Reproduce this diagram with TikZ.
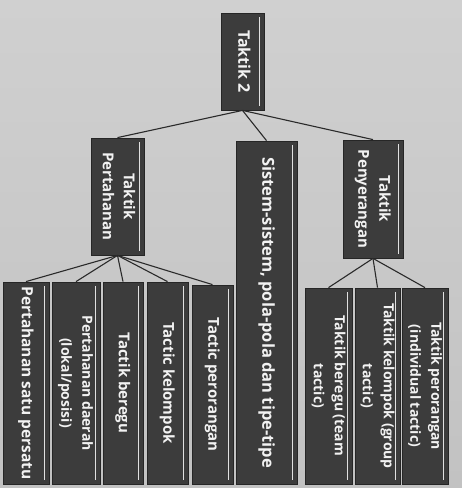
\documentclass[tikz,border=0pt]{standalone}
\usepackage{fontspec}
\setmainfont{Open Sans}
\usepackage{graphicx}
\definecolor{bgtop}{HTML}{D0D0D0}
\definecolor{bgbot}{HTML}{C2C2C2}
\definecolor{boxfill}{HTML}{3C3C3C}
\definecolor{boxtext}{HTML}{F2F2F2}
\definecolor{linkcol}{HTML}{2A2A2A}
\newcommand{\rottxt}[2][15]{\rotatebox{-90}{\fontsize{#1}{21}\selectfont\bfseries\begin{tabular}{@{}c@{}}#2\end{tabular}}}
\begin{document}
\begin{tikzpicture}[x=1pt,y=-1pt,
  tbox/.style={draw=black!85, line width=0.8pt, fill=boxfill, text=boxtext,
    inner sep=0pt, anchor=center,
    path picture={\draw[white!88!black, line width=1.3pt]
      ([xshift=-4.5pt,yshift=-4pt]path picture bounding box.north east) --
      ([xshift=-4.5pt,yshift=4pt]path picture bounding box.south east);}},
  link/.style={draw=linkcol, line width=1.1pt}]
\useasboundingbox (0,0) rectangle (462,488);
\shade[top color=bgtop, bottom color=bgbot] (0,0) rectangle (462,488);

% level 0
\node[tbox, minimum width=43pt, minimum height=97pt] (t2) at (242.5,61.5) {\rottxt[16]{Taktik 2}};

% level 1
\node[tbox, minimum width=53pt, minimum height=117pt] (pert) at (117.5,196.5) {\rottxt[15]{Taktik\\Pertahanan}};
\node[tbox, minimum width=61pt, minimum height=343pt] (sis) at (266.5,312.5) {\rottxt[16.5]{Sistem-sistem, pola-pola dan tipe-tipe}};
\node[tbox, minimum width=60pt, minimum height=118pt] (peny) at (373,199) {\rottxt[15]{Taktik\\Penyerangan}};

% level 2 (defence)
\node[tbox, minimum width=46pt, minimum height=202pt] (l1) at (26,383) {\rottxt[15.5]{Pertahanan satu persatu}};
\node[tbox, minimum width=48pt, minimum height=202pt] (l2) at (76,383) {\rottxt[14]{Pertahanan daerah\\(lokal/posisi)}};
\node[tbox, minimum width=40pt, minimum height=202pt] (l3) at (123,383) {\rottxt[15]{Tactik beregu}};
\node[tbox, minimum width=41pt, minimum height=202pt] (l4) at (167.5,383) {\rottxt[15]{Tactic kelompok}};
\node[tbox, minimum width=41pt, minimum height=199pt] (l5) at (212.5,384.5) {\rottxt[15]{Tactic perorangan}};

% level 2 (attack)
\node[tbox, minimum width=47pt, minimum height=196pt] (r1) at (328.5,386) {\rottxt[14]{Taktik beregu (team\\tactic)}};
\node[tbox, minimum width=45pt, minimum height=196pt] (r2) at (377.5,386) {\rottxt[14]{Taktik kelompok (group\\tactic)}};
\node[tbox, minimum width=46pt, minimum height=196pt] (r3) at (425,386) {\rottxt[14]{Taktik perorangan\\(individual tactic)}};

% connectors
\draw[link] (t2.south) -- (pert.north);
\draw[link] (t2.south) -- (sis.north);
\draw[link] (t2.south) -- (peny.north);
\foreach \c in {l1,l2,l3,l4,l5} \draw[link] (pert.south) -- (\c.north);
\foreach \c in {r1,r2,r3} \draw[link] (peny.south) -- (\c.north);
\end{tikzpicture}
\end{document}
